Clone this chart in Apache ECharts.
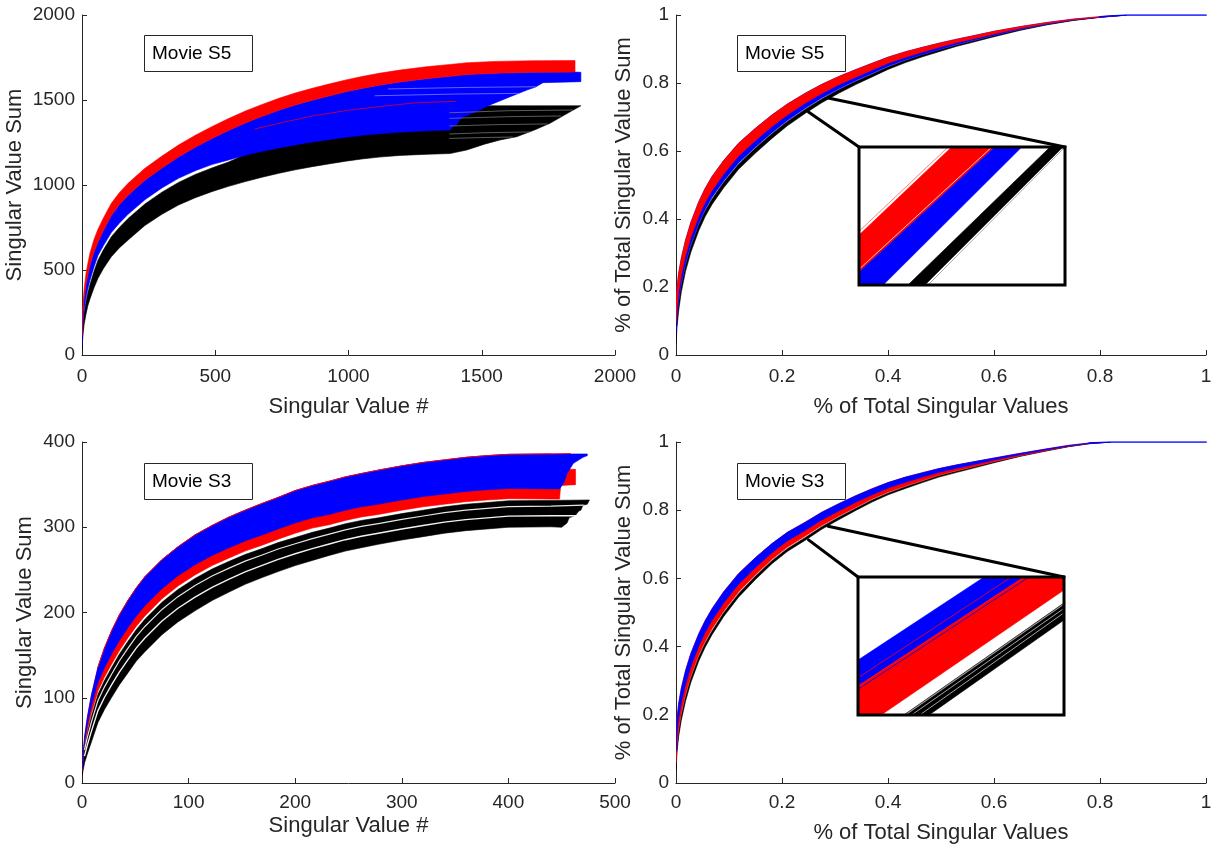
<!DOCTYPE html>
<html>
<head>
<meta charset="utf-8">
<script src="https://cdn.jsdelivr.net/npm/echarts@6.0.0/dist/echarts.min.js"></script>
<style>
  html, body { margin: 0; padding: 0; background: #fff; }
  #main { width: 1215px; height: 850px; }
</style>
</head>
<body>
<div id="main"></div>
<script>
// ---------- Movie S5: cumulative singular value sums (raw) ----------
const s5RawX        = [0, 2, 5, 8, 15, 22, 30, 45, 60, 80, 110, 140, 173, 236, 300, 362, 425, 487, 550, 613, 676, 739, 800, 864, 930, 990, 1050, 1115, 1193, 1300, 1381];
const s5RawRedTop   = [150, 250, 330, 390, 480, 540, 600, 680, 740, 805, 892, 955, 1010, 1098, 1170, 1235, 1292, 1343, 1391, 1435, 1474, 1510, 1541, 1569, 1595, 1618, 1638, 1657, 1676, 1697, 1709];
const s5RawRedBot   = [120, 210, 280, 332, 415, 472, 528, 606, 665, 731, 820, 884, 940, 1028, 1100, 1165, 1222, 1273, 1321, 1365, 1404, 1440, 1471, 1499, 1525, 1548, 1568, 1587, 1606, 1627, 1639];
const s5RawBlueBot  = [60, 130, 215, 265, 335, 390, 440, 518, 585, 642, 720, 775, 828, 913, 983, 1039, 1084, 1120, 1147, 1175, 1198, 1218, 1236, 1253, 1268, 1281, 1292, 1302, 1311, 1319, 1324];
const s5RawBlackTop = [50, 115, 195, 245, 312, 366, 415, 492, 558, 617, 695, 750, 803, 888, 958, 1015, 1062, 1100, 1135, 1180, 1210, 1235, 1255, 1272, 1288, 1300, 1312, 1324, 1337, 1360, 1385];
const s5RawBlackBot = [30, 85, 140, 180, 240, 290, 330, 395, 451, 508, 578, 630, 676, 762, 828, 882, 925, 961, 992, 1020, 1046, 1069, 1089, 1108, 1125, 1140, 1153, 1164, 1174, 1181, 1185];
// where the longest curves run out
const s5RawRedTopEnd   = [[1445,1719],[1550,1727],[1692,1731],[1850,1732]];
const s5RawRedBotEnd   = [[1445,1650],[1550,1658],[1692,1663],[1850,1664]];
const s5RawBlueTopEnd  = [[1872,1663]];
const s5RawBlueBotEnd  = [[1392,1345],[1405,1352],[1418,1385],[1432,1402],[1480,1432],[1531,1471],[1600,1515],[1670,1559],[1700,1575],[1730,1602],[1872,1608]];
const s5RawBlackTopEnd = [[1450,1432],[1500,1460],[1531,1466],[1872,1466]];
const s5RawBlackBotEnd = [[1444,1206],[1510,1240],[1569,1265],[1631,1284],[1700,1325],[1756,1363],[1820,1420],[1872,1466]];
// individual curves standing out inside the bundles
const s5RawRedTrace = [[650,1330],[739,1363],[864,1406],[1000,1440],[1115,1461],[1250,1483],[1400,1492]];
const s5RawBlueStreaks = [
  [[1150,1565],[1450,1574],[1700,1578]],
  [[1100,1525],[1400,1535],[1640,1539]]
];
const s5RawBlackStreaks = [
  [[1380,1425],[1600,1437],[1840,1441]],
  [[1380,1392],[1600,1402],[1795,1406]],
  [[1380,1347],[1550,1355],[1745,1359]],
  [[1380,1300],[1500,1307],[1680,1312]],
  [[1380,1274],[1500,1279],[1615,1282]]
];

// ---------- Movie S5: normalised curves ----------
const s5NormX        = [0, 0.002, 0.005, 0.01, 0.018, 0.028, 0.043, 0.055, 0.068, 0.09, 0.118, 0.15, 0.181, 0.21, 0.244, 0.275, 0.307, 0.34, 0.37, 0.4, 0.433, 0.465, 0.496, 0.53, 0.558, 0.6, 0.65, 0.7, 0.75, 0.8, 0.85];
const s5NormRedTop   = [0.16, 0.20, 0.24, 0.285, 0.338, 0.39, 0.451, 0.49, 0.525, 0.572, 0.623, 0.667, 0.706, 0.738, 0.77, 0.796, 0.819, 0.84, 0.858, 0.876, 0.892, 0.905, 0.917, 0.929, 0.938, 0.952, 0.966, 0.978, 0.988, 0.995, 1.0];
const s5NormRedBot   = [0.098, 0.141, 0.185, 0.235, 0.292, 0.346, 0.409, 0.449, 0.484, 0.532, 0.585, 0.631, 0.672, 0.706, 0.741, 0.769, 0.795, 0.818, 0.838, 0.858, 0.876, 0.891, 0.905, 0.919, 0.929, 0.944, 0.961, 0.975, 0.986, 0.994, 1.0];
const s5NormBlueBot  = [0.066, 0.112, 0.158, 0.21, 0.269, 0.324, 0.387, 0.428, 0.464, 0.512, 0.565, 0.612, 0.654, 0.69, 0.726, 0.756, 0.782, 0.807, 0.828, 0.849, 0.868, 0.884, 0.898, 0.913, 0.924, 0.94, 0.958, 0.973, 0.985, 0.9935, 1.0];
const s5NormBlackTop = [0.06, 0.106, 0.152, 0.205, 0.264, 0.32, 0.383, 0.424, 0.459, 0.508, 0.561, 0.609, 0.651, 0.687, 0.723, 0.753, 0.78, 0.805, 0.826, 0.847, 0.866, 0.883, 0.897, 0.912, 0.923, 0.939, 0.957, 0.972, 0.985, 0.9934, 1.0];
const s5NormBlackBot = [0.035, 0.082, 0.13, 0.185, 0.246, 0.302, 0.366, 0.407, 0.443, 0.492, 0.546, 0.594, 0.637, 0.674, 0.711, 0.742, 0.77, 0.796, 0.818, 0.84, 0.86, 0.877, 0.892, 0.908, 0.919, 0.936, 0.955, 0.971, 0.984, 0.993, 1.0];
const s5NormTail     = [[0.8, 0.995], [0.85, 1.0], [1.0, 1.0]];

// magnified view of the S5 bundle near x = 0.27
const s5InsetRed   = [[0.2398,0.735],[0.2680,0.757],[0.2764,0.757],[0.2473,0.735]];
const s5InsetBlue  = [[0.2473,0.735],[0.2764,0.757],[0.2816,0.757],[0.2547,0.735]];
const s5InsetBlack = [[0.2595,0.735],[0.2871,0.757],[0.2896,0.757],[0.2628,0.735]];
const s5InsetPinkLine  = [[0.2390,0.735],[0.2673,0.757]];
const s5InsetWhiteLine = [[0.2467,0.735],[0.2758,0.757]];
const s5InsetGrayLine  = [[0.2634,0.735],[0.2900,0.757]];
const s5InsetRange = { x: [0.25, 0.29], y: [0.735, 0.757] };
const s5ZoomAnchors = [[0.287, 0.756], [0.25, 0.715]];

// ---------- Movie S3: cumulative singular value sums (raw) ----------
const s3RawX        = [0, 2.5, 5, 8.8, 15, 21, 27.6, 35, 43, 51, 59, 75, 90, 106, 122, 138, 153, 169, 184, 200, 216, 232, 247, 262, 278, 300, 320, 340, 360, 380, 400, 440];
const s3RawBlueTop  = [18, 55, 77, 103, 136, 158, 178, 197, 214, 229, 242, 262, 277, 291, 302, 312, 320, 328, 335, 343, 349, 354, 359, 363, 367, 372, 376, 379, 382, 384, 385.5, 386];
const s3RawBlueBot  = [16, 50, 68, 90, 118, 135, 151, 167, 182, 196, 208, 228, 243, 256, 267, 276, 284, 291, 298, 305, 311, 315, 320, 324, 327, 332, 336, 339, 342, 344, 345.5, 345];
const s3RawRedBot   = [14, 46, 62, 82, 108, 124, 139, 155, 170, 184, 196, 216, 231, 244, 255, 264, 272, 279, 286, 293, 299, 303, 308, 312, 315, 320, 324, 327, 330, 332, 333.5, 333];
const s3RawBlackTop = [13, 44, 59, 78, 104, 120, 135, 151, 166, 180, 192, 212, 227, 240, 251, 260, 268, 275, 282, 288, 294, 299, 304, 308, 311, 316, 320, 324, 327, 329, 331, 331.5];
const s3RawBlackBot = [8, 24, 34, 48, 71, 86, 100, 115, 129, 143, 154, 174, 189, 202, 214, 224, 233, 241, 248, 255, 261, 267, 272, 276, 280, 285, 289, 293, 296, 298, 300, 300.5];
// thin gaps separating groups of black curves
const s3RawGapA     = [12, 39.6, 53.5, 71.4, 96.7, 112.5, 127.3, 143.1, 157.9, 171.9, 183.6, 203.6, 218.6, 231.6, 242.9, 252.1, 260.3, 267.5, 274.5, 280.7, 286.7, 292, 297, 301, 304.2, 309.2, 313.2, 317.2, 320.2, 322.2, 324.2, 324.7];
const s3RawGapB     = [10, 32.4, 44.5, 60.6, 84.9, 100.3, 114.7, 130.1, 144.5, 158.5, 170, 190, 205, 218, 229.5, 239.1, 247.7, 255.3, 262.3, 268.9, 274.9, 280.4, 285.4, 289.4, 293, 298, 302, 306, 309, 311, 313, 313.5];
// where the longest curves run out
const s3RawBlueTopEnd  = [[474,386]];
const s3RawBlueBotEnd  = [[448,345],[452,352],[455,363],[461,375],[470,382],[474,384]];
const s3RawRedTopEnd   = [[448,368],[463,368]];
const s3RawRedBotEnd   = [[448,333],[449,349],[463,350]];
const s3RawBlackTopEnd = [[476,332]];
const s3RawBlackBotEnd = [[450,300],[455,305],[457,311],[463,314],[466,319],[468,320],[470,326],[474,327],[476,332]];
const s3RawGapAEnd = [[470,326]];
const s3RawGapBEnd = [[463,313.5]];
const s3RawRedEdgeEnd = [[458,386.5]];

// ---------- Movie S3: normalised curves ----------
const s3NormX        = [0, 0.002, 0.005, 0.01, 0.018, 0.028, 0.043, 0.055, 0.068, 0.09, 0.118, 0.15, 0.181, 0.21, 0.244, 0.275, 0.307, 0.34, 0.37, 0.4, 0.433, 0.465, 0.496, 0.53, 0.558, 0.6, 0.65, 0.7, 0.74, 0.78, 0.82];
const s3NormBlueTop  = [0.135, 0.19, 0.233, 0.278, 0.33, 0.38, 0.438, 0.476, 0.511, 0.561, 0.614, 0.661, 0.702, 0.735, 0.765, 0.794, 0.819, 0.843, 0.863, 0.881, 0.897, 0.91, 0.922, 0.933, 0.941, 0.953, 0.967, 0.98, 0.99, 0.997, 1.0];
const s3NormBlueBot  = [0.091, 0.146, 0.189, 0.236, 0.289, 0.342, 0.402, 0.441, 0.477, 0.528, 0.583, 0.632, 0.675, 0.71, 0.741, 0.7715, 0.798, 0.824, 0.845, 0.865, 0.882, 0.897, 0.911, 0.923, 0.9325, 0.947, 0.963, 0.9773, 0.9882, 0.9961, 1.0];
const s3NormRedBot   = [0.059, 0.114, 0.157, 0.205, 0.26, 0.314, 0.376, 0.415, 0.452, 0.504, 0.56, 0.611, 0.656, 0.691, 0.724, 0.755, 0.782, 0.809, 0.833, 0.853, 0.871, 0.887, 0.9025, 0.916, 0.926, 0.942, 0.96, 0.9753, 0.9869, 0.9954, 1.0];
const s3NormBlackTop = [0.052, 0.107, 0.151, 0.198, 0.253, 0.308, 0.37, 0.41, 0.446, 0.499, 0.555, 0.607, 0.652, 0.687, 0.72, 0.7515, 0.779, 0.806, 0.83, 0.85, 0.869, 0.885, 0.901, 0.914, 0.925, 0.941, 0.9593, 0.9749, 0.9866, 0.9953, 1.0];
const s3NormBlackBot = [0.037, 0.092, 0.136, 0.184, 0.24, 0.295, 0.358, 0.398, 0.435, 0.488, 0.545, 0.597, 0.643, 0.679, 0.712, 0.744, 0.772, 0.8, 0.824, 0.845, 0.864, 0.881, 0.897, 0.911, 0.922, 0.939, 0.958, 0.974, 0.986, 0.995, 1.0];
const s3NormTail     = [[0.78, 0.997], [0.82, 1.0], [1.0, 1.0]];

// magnified view of the S3 bundle near x = 0.27
const s3InsetBlue  = [[0.2338,0.73],[0.2745,0.765],[0.2822,0.765],[0.2414,0.73]];
const s3InsetRed   = [[0.2414,0.73],[0.2822,0.765],[0.2937,0.765],[0.2545,0.73]];
const s3InsetBlack = [[0.2589,0.73],[0.2972,0.765],[0.3019,0.765],[0.2638,0.73]];
const s3InsetRedLine   = [[0.2390,0.73],[0.2798,0.765]];
const s3InsetBlueLine  = [[0.2424,0.73],[0.2832,0.765]];
const s3InsetGrayLine  = [[0.2592,0.73],[0.2975,0.765]];
const s3InsetWhiteLine1 = [[0.2604,0.73],[0.2987,0.765]];
const s3InsetWhiteLine2 = [[0.2620,0.73],[0.2998,0.765]];
const s3InsetRange = { x: [0.25, 0.29], y: [0.73, 0.765] };
const s3ZoomAnchors = [[0.287, 0.753], [0.25, 0.713]];

// ---------- labels ----------
const rawXName = 'Singular Value #';
const rawYName = 'Singular Value Sum';
const normXName = '% of Total Singular Values';
const normYName = '% of Total Singular Value Sum';

// ---------- helpers ----------
const FONT = '"Liberation Sans", Arial, Helvetica, sans-serif';
const AXIS_COLOR = '#262626';
const RED = '#ff0000', BLUE = '#0000ff', BLACK = '#000000';

const zip = (xs, ys) => xs.map((x, i) => [x, ys[i]]);

function valueAxis(gridIndex, max, interval, name, nameGap, labelMargin) {
  return {
    type: 'value', gridIndex, min: 0, max, interval,
    name, nameLocation: 'middle', nameGap, nameMoveOverlap: false,
    nameTextStyle: { fontFamily: FONT, fontSize: 22, color: AXIS_COLOR },
    axisLine: { show: true, onZero: false, lineStyle: { color: AXIS_COLOR, width: 1 } },
    axisTick: { show: true, inside: true, length: 5, lineStyle: { color: AXIS_COLOR, width: 1 } },
    axisLabel: {
      show: true, margin: labelMargin, fontFamily: FONT, fontSize: 19, color: AXIS_COLOR, hideOverlap: false,
      formatter: v => String(Math.round(v * 1e6) / 1e6)
    },
    splitLine: { show: false }
  };
}
function hiddenAxis(gridIndex, range) {
  return { type: 'value', gridIndex, min: range[0], max: range[1], show: false, splitLine: { show: false } };
}

// filled region bounded by a closed outline
function polygon(axis, outline, color) {
  return {
    type: 'custom', xAxisIndex: axis, yAxisIndex: axis, clip: true, silent: true,
    data: [outline[0]],
    renderItem: (params, api) => ({
      type: 'polygon',
      shape: { points: outline.map(p => api.coord(p)) },
      style: { fill: color, stroke: color, lineWidth: 0.6 }
    })
  };
}
// filled region between an upper and a lower edge
function band(axis, upper, lower, color) {
  return polygon(axis, upper.concat(lower.slice().reverse()), color);
}
function trace(axis, pts, color, width, opacity, clip) {
  return {
    type: 'line', xAxisIndex: axis, yAxisIndex: axis, data: pts, silent: true,
    symbol: 'none', showSymbol: false, clip: clip !== false, z: 2,
    lineStyle: { color, width, opacity: opacity == null ? 1 : opacity, cap: 'square', join: 'miter' }
  };
}
function frame(axis, range) {
  const [x0, x1] = range.x, [y0, y1] = range.y;
  const s = trace(axis, [[x0, y0], [x1, y0], [x1, y1], [x0, y1], [x0, y0]], BLACK, 3, 1, false);
  s.z = 5;
  return s;
}
function movieBox(text, left, top) {
  return {
    text, left, top, padding: [9, 22, 9, 8],
    borderColor: '#262626', borderWidth: 1, backgroundColor: '#fff',
    textStyle: { fontFamily: FONT, fontSize: 19, fontWeight: 'normal', color: '#000', lineHeight: 19 }
  };
}

// edges assembled from the sampled curves plus their run-out ends
const s5Raw = {
  redTop:   zip(s5RawX, s5RawRedTop).concat(s5RawRedTopEnd),
  redBot:   zip(s5RawX, s5RawRedBot).concat(s5RawRedBotEnd),
  blueTop:  zip(s5RawX, s5RawRedBot).concat(s5RawRedBotEnd, s5RawBlueTopEnd),
  blueBot:  zip(s5RawX, s5RawBlueBot).concat(s5RawBlueBotEnd),
  blackTop: zip(s5RawX, s5RawBlackTop).concat(s5RawBlackTopEnd),
  blackBot: zip(s5RawX, s5RawBlackBot).concat(s5RawBlackBotEnd)
};
const s3Raw = {
  blueTop:  zip(s3RawX, s3RawBlueTop).concat(s3RawBlueTopEnd),
  blueBot:  zip(s3RawX, s3RawBlueBot).concat(s3RawBlueBotEnd),
  redTop:   zip(s3RawX, s3RawBlueTop).concat(s3RawRedTopEnd),
  redBot:   zip(s3RawX, s3RawRedBot).concat(s3RawRedBotEnd),
  blackTop: zip(s3RawX, s3RawBlackTop).concat(s3RawBlackTopEnd),
  blackBot: zip(s3RawX, s3RawBlackBot).concat(s3RawBlackBotEnd),
  gapA:     zip(s3RawX, s3RawGapA).slice(1).concat(s3RawGapAEnd),
  gapB:     zip(s3RawX, s3RawGapB).slice(1).concat(s3RawGapBEnd),
  redEdge:  zip(s3RawX, s3RawBlueTop).slice(4).concat(s3RawRedEdgeEnd)
};

const chart = echarts.init(document.getElementById('main'));

chart.setOption({
  animation: false,
  backgroundColor: '#fff',
  title: [
    movieBox('Movie S5', 144, 35),
    movieBox('Movie S5', 737, 35),
    movieBox('Movie S3', 144, 463),
    movieBox('Movie S3', 737, 463)
  ],
  grid: [
    { left: 82,  top: 15,  width: 533, height: 340, outerBoundsMode: 'none' },
    { left: 676, top: 15,  width: 530, height: 340, outerBoundsMode: 'none' },
    { left: 82,  top: 442, width: 533, height: 341, outerBoundsMode: 'none' },
    { left: 676, top: 442, width: 530, height: 341, outerBoundsMode: 'none' },
    { left: 859, top: 147, width: 206, height: 138, outerBoundsMode: 'none' },
    { left: 858, top: 577, width: 206, height: 138, outerBoundsMode: 'none' }
  ],
  xAxis: [
    valueAxis(0, 2000, 500, rawXName, 41, 12),
    valueAxis(1, 1, 0.2, normXName, 41, 12),
    valueAxis(2, 500, 100, rawXName, 32, 10),
    valueAxis(3, 1, 0.2, normXName, 39, 10),
    hiddenAxis(4, s5InsetRange.x),
    hiddenAxis(5, s3InsetRange.x)
  ],
  yAxis: [
    valueAxis(0, 2000, 500, rawYName, 56, 7),
    valueAxis(1, 1, 0.2, normYName, 41, 7),
    valueAxis(2, 400, 100, rawYName, 46, 7),
    valueAxis(3, 1, 0.2, normYName, 41, 7),
    hiddenAxis(4, s5InsetRange.y),
    hiddenAxis(5, s3InsetRange.y)
  ],
  series: [
    // S5 raw
    band(0, s5Raw.blackTop, s5Raw.blackBot, BLACK),
    ...s5RawBlackStreaks.map(p => trace(0, p, '#7a7a7a', 1, 0.75)),
    band(0, s5Raw.blueTop, s5Raw.blueBot, BLUE),
    ...s5RawBlueStreaks.map(p => trace(0, p, '#7d7dff', 1, 0.8)),
    band(0, s5Raw.redTop, s5Raw.redBot, RED),
    trace(0, s5RawRedTrace, RED, 1, 0.7),

    // S5 normalised
    band(1, zip(s5NormX, s5NormBlackTop), zip(s5NormX, s5NormBlackBot), BLACK),
    band(1, zip(s5NormX, s5NormRedTop), zip(s5NormX, s5NormBlueBot), BLUE),
    band(1, zip(s5NormX, s5NormRedTop), zip(s5NormX, s5NormRedBot), RED),
    trace(1, s5NormTail, BLUE, 1.5),

    // S3 raw
    band(2, s3Raw.blackTop, s3Raw.blackBot, BLACK),
    trace(2, s3Raw.gapA, '#ffffff', 1.2, 0.9),
    trace(2, s3Raw.gapB, '#ffffff', 1.4, 0.95),
    band(2, s3Raw.redTop, s3Raw.redBot, RED),
    band(2, s3Raw.blueTop, s3Raw.blueBot, BLUE),
    trace(2, s3Raw.redEdge, RED, 1, 0.9),

    // S3 normalised
    band(3, zip(s3NormX, s3NormBlackTop), zip(s3NormX, s3NormBlackBot), BLACK),
    band(3, zip(s3NormX, s3NormBlueTop), zip(s3NormX, s3NormRedBot), RED),
    band(3, zip(s3NormX, s3NormBlueTop), zip(s3NormX, s3NormBlueBot), BLUE),
    trace(3, s3NormTail, BLUE, 1.5),

    // S5 magnified view
    polygon(4, s5InsetRed, RED),
    polygon(4, s5InsetBlue, BLUE),
    polygon(4, s5InsetBlack, BLACK),
    trace(4, s5InsetPinkLine, '#ff7070', 1, 0.9),
    trace(4, s5InsetWhiteLine, '#ffd0d0', 1, 0.9),
    trace(4, s5InsetGrayLine, '#9a9a9a', 1, 0.9),
    frame(4, s5InsetRange),

    // S3 magnified view
    polygon(5, s3InsetBlue, BLUE),
    polygon(5, s3InsetRed, RED),
    polygon(5, s3InsetBlack, BLACK),
    trace(5, s3InsetRedLine, RED, 1, 0.8),
    trace(5, s3InsetBlueLine, BLUE, 1, 0.8),
    trace(5, s3InsetGrayLine, '#9a9a9a', 1.2, 1),
    trace(5, s3InsetWhiteLine1, '#ffffff', 0.8, 0.8),
    trace(5, s3InsetWhiteLine2, '#ffffff', 0.8, 0.8),
    frame(5, s3InsetRange)
  ]
});

// leader lines from the zoomed spot on each curve bundle to its magnified view
function leaders(mainIndex, insetIndex, anchors, range) {
  const a = chart.convertToPixel({ xAxisIndex: mainIndex, yAxisIndex: mainIndex }, anchors[0]);
  const b = chart.convertToPixel({ xAxisIndex: mainIndex, yAxisIndex: mainIndex }, anchors[1]);
  const tr = chart.convertToPixel({ xAxisIndex: insetIndex, yAxisIndex: insetIndex }, [range.x[1], range.y[1]]);
  const tl = chart.convertToPixel({ xAxisIndex: insetIndex, yAxisIndex: insetIndex }, [range.x[0], range.y[1]]);
  const style = { stroke: BLACK, lineWidth: 3, lineCap: 'round' };
  return [
    { type: 'line', z: 10, shape: { x1: a[0], y1: a[1], x2: tr[0], y2: tr[1] }, style },
    { type: 'line', z: 10, shape: { x1: b[0], y1: b[1], x2: tl[0], y2: tl[1] }, style }
  ];
}
chart.setOption({
  graphic: leaders(1, 4, s5ZoomAnchors, s5InsetRange).concat(leaders(3, 5, s3ZoomAnchors, s3InsetRange))
});
</script>
</body>
</html>
